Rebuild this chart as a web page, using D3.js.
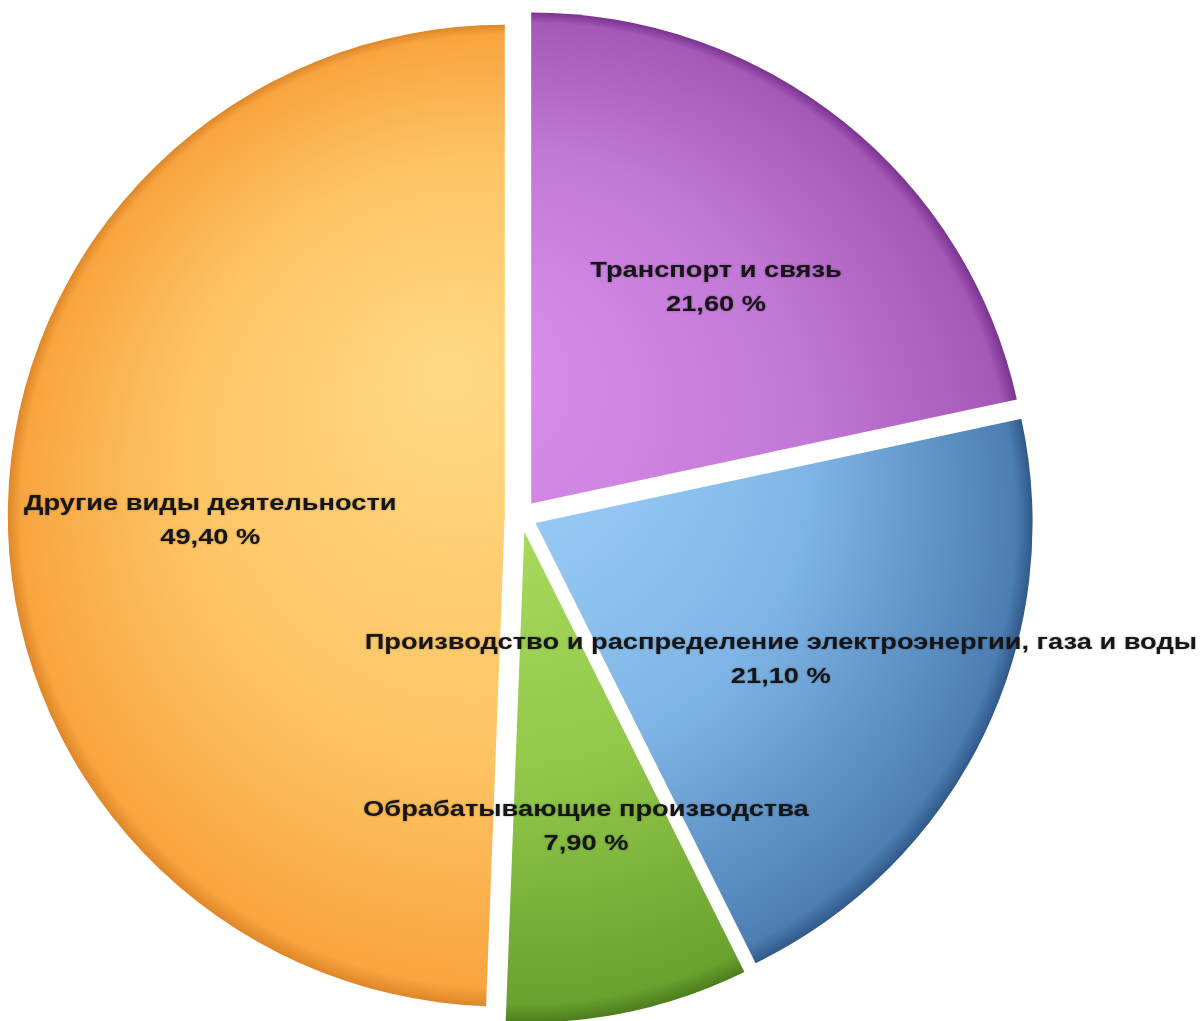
<!DOCTYPE html>
<html><head><meta charset="utf-8">
<script src="https://cdn.jsdelivr.net/npm/d3@7"></script>
<style>html,body{margin:0;padding:0;background:#fff;}svg{display:block;}</style>
</head><body>
<svg id="chart" width="1200" height="1021"></svg>
<script>
const categories = ["Транспорт и связь", "Производство и распределение электроэнергии, газа и воды", "Обрабатывающие производства", "Другие виды деятельности"];
const values = [21.6, 21.1, 7.9, 49.4];
const valueLabels = ["21,60 %", "21,10 %", "7,90 %", "49,40 %"];
const palette = [
  ["#dc8fee", "#c278d6", "#a458b8", "#7a3290"],
  ["#a6d6fd", "#7fb5e6", "#4c7eb2", "#30598a"],
  ["#b3e468", "#93c84a", "#6aa22f", "#4d7d1e"],
  ["#ffd985", "#fec464", "#f8a540", "#de8628"]
];

const W = 1200, H = 1021;
const cx = 521, cy = 516, R = 491, sx = 497 / 491, explode = 16;
const labelR = 291, textStretch = 1.24, edgeMargin = 3;

const svg = d3.select("#chart");
const defs = svg.append("defs");

const pie = d3.pie().sort(null).value(d => d.v);
const data = pie(categories.map((c, i) => ({ c, v: values[i], lab: valueLabels[i], i })));
const arc = d3.arc().innerRadius(0).outerRadius(R);
const labelArc = d3.arc().innerRadius(labelR).outerRadius(labelR);

data.forEach((d, i) => {
  const g = defs.append("radialGradient").attr("id", "g" + i)
    .attr("gradientUnits", "userSpaceOnUse")
    .attr("cx", 0).attr("cy", 0).attr("r", R)
    .attr("fx", -R * 0.12).attr("fy", -R * 0.3);
  const p = palette[i];
  g.append("stop").attr("offset", "0").attr("stop-color", p[0]);
  g.append("stop").attr("offset", "0.6").attr("stop-color", p[1]);
  g.append("stop").attr("offset", "0.97").attr("stop-color", p[2]);
  g.append("stop").attr("offset", "1").attr("stop-color", p[3]);
});

const f = defs.append("filter").attr("id", "ts").attr("x", "-5%").attr("y", "-30%").attr("width", "110%").attr("height", "160%");
f.append("feDropShadow").attr("dx", 0).attr("dy", 0).attr("stdDeviation", 1)
  .attr("flood-color", "#000").attr("flood-opacity", 0.3);

const root = svg.append("g").attr("transform", `translate(${cx},${cy}) scale(${sx},1)`);
root.selectAll("path.slice").data(data).enter().append("path")
  .attr("class", "slice")
  .attr("transform", d => {
    const a = (d.startAngle + d.endAngle) / 2;
    return `translate(${Math.sin(a) * explode},${-Math.cos(a) * explode})`;
  })
  .attr("d", arc)
  .attr("fill", (d, i) => `url(#g${i})`);

const labels = svg.append("g")
  .attr("font-family", "'Liberation Sans', Arial, Helvetica, sans-serif")
  .attr("font-weight", "bold")
  .attr("font-size", 22)
  .attr("fill", "#141414")
  .attr("filter", "url(#ts)");

data.forEach(d => {
  const a = (d.startAngle + d.endAngle) / 2;
  const [lx, ly] = labelArc.centroid(d);
  let x = cx + (lx + Math.sin(a) * explode) * sx;
  const y = cy + ly - Math.cos(a) * explode;
  const t = labels.append("g");
  const place = () => t.attr("transform", `translate(${x},${y}) scale(${textStretch},1)`);
  place();
  t.append("text").attr("text-anchor", "middle").attr("y", 0).text(d.data.c);
  t.append("text").attr("text-anchor", "middle").attr("y", 34).text(d.data.lab);
  // keep label inside the picture
  const b = t.node().getBBox();
  const left = x + b.x * textStretch, right = x + (b.x + b.width) * textStretch;
  if (right > W - edgeMargin) x -= right - (W - edgeMargin);
  if (left < edgeMargin) x += edgeMargin - left;
  place();
});
</script>
</body></html>
